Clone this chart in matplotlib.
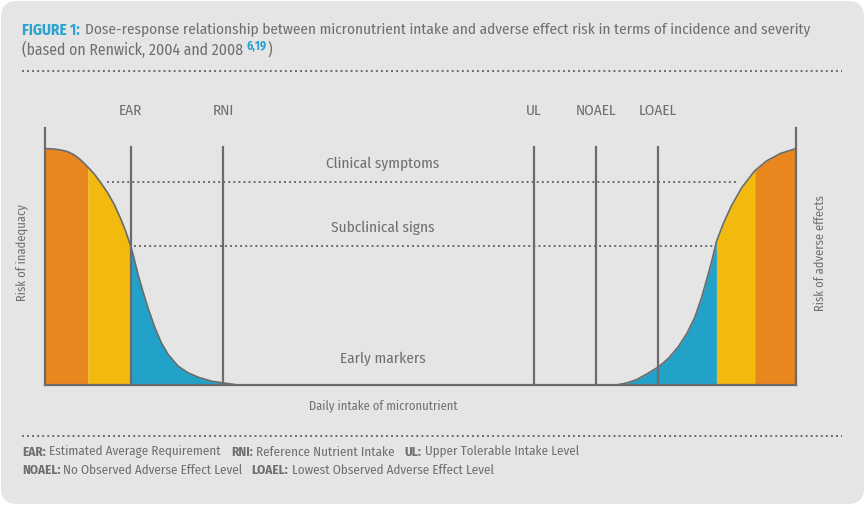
import numpy as np
import matplotlib
matplotlib.use('Agg')
import matplotlib.pyplot as plt
from matplotlib.patches import FancyBboxPatch
from matplotlib.transforms import IdentityTransform

# risk of inadequacy (low intake side)
low_x = np.array([0, 1.2, 2.1, 3.0, 3.9, 4.75, 5.7, 6.5, 7.4, 8.3, 9.2, 10.1, 10.75,
                  11.4, 11.8, 12.4, 13.1, 13.8, 14.65, 15.5, 16.4, 17.75, 19.1, 20.4,
                  22.2, 23.7, 25.7])
low_y = np.array([1.0, 0.998, 0.994, 0.987, 0.973, 0.952, 0.922, 0.895, 0.857, 0.815,
                  0.765, 0.702, 0.65, 0.589, 0.543, 0.466, 0.389, 0.318, 0.241, 0.178,
                  0.129, 0.079, 0.051, 0.033, 0.016, 0.009, 0.0])

# risk of adverse effects (high intake side)
high_x = np.array([76.1, 77.5, 78.8, 80.1, 81.7, 83.0, 84.3, 85.45, 86.55, 87.45, 88.2,
                   88.8, 89.4, 90.3, 91.4, 92.8, 94.5, 96.1, 97.9, 100.0])
high_y = np.array([0.0, 0.009, 0.023, 0.046, 0.077, 0.112, 0.161, 0.217, 0.288, 0.372,
                   0.456, 0.526, 0.606, 0.681, 0.758, 0.836, 0.906, 0.948, 0.979, 1.0])

ref_names = ['EAR', 'RNI', 'UL', 'NOAEL', 'LOAEL']
ref_x = [11.4, 23.7, 65.1, 73.4, 81.6]

# severity bands along intake, most severe first
low_bands = [(0, 5.7), (5.7, 11.4), (11.4, 25.7)]
high_bands = [(94.5, 100.0), (89.4, 94.5), (76.1, 89.4)]
band_colors = ['#e9861e', '#f2b90e', '#23a2c9']

levels = ['Clinical symptoms', 'Subclinical signs', 'Early markers']
level_y = [0.86, 0.59]
level_text_y = [0.935, 0.665, 0.112]
clinical_span = (8.3, 92.3)
subclinical_span = (11.9, 88.9)

GREY = '#6f6f6f'
LINE = '#6b6b6b'
BLUE = '#29a3d1'
BG = '#e5e5e5'

plt.rcParams['font.family'] = ['Fira Sans Condensed', 'Fira Sans', 'Lato', 'DejaVu Sans']

fig = plt.figure(figsize=(8.65, 5.05), dpi=100, facecolor='white')
panel = FancyBboxPatch((1, 1), 863, 503, boxstyle='round,pad=0,rounding_size=16',
                       transform=IdentityTransform(), facecolor=BG, edgecolor='none',
                       zorder=-10)
fig.patches.append(panel)

ax = fig.add_axes([45 / 865, 120 / 505, 751 / 865, 257 / 505])
ax.set_facecolor('none')
ax.set_xlim(0, 100)
ax.set_ylim(0, 1.087)
ax.set_xticks([])
ax.set_yticks([])
ax.spines['top'].set_visible(False)
for s in ['left', 'right', 'bottom']:
    ax.spines[s].set_color(LINE)
    ax.spines[s].set_linewidth(1.6)

for (a, b), c in zip(low_bands, band_colors):
    m = (low_x >= a) & (low_x <= b)
    ax.fill_between(low_x[m], 0, low_y[m], color=c, lw=0, zorder=1)
for (a, b), c in zip(high_bands, band_colors):
    m = (high_x >= a) & (high_x <= b)
    ax.fill_between(high_x[m], 0, high_y[m], color=c, lw=0, zorder=1)

ax.plot(low_x, low_y, color=LINE, lw=1.2, zorder=3, solid_joinstyle='round')
ax.plot(high_x, high_y, color=LINE, lw=1.2, zorder=3, solid_joinstyle='round')

for name, x in zip(ref_names, ref_x):
    ax.plot([x, x], [0, 1.006], color=LINE, lw=1.6, zorder=2)
    ax.text(x, 1.159, name, ha='center', va='center', color=GREY, fontsize=11, clip_on=False)

ax.plot(clinical_span, [level_y[0]] * 2, color=LINE, lw=1.4, ls=(0, (1, 1.6)), zorder=2)
ax.plot(subclinical_span, [level_y[1]] * 2, color=LINE, lw=1.4, ls=(0, (1, 1.6)), zorder=2)
for t, y in zip(levels, level_text_y):
    ax.text(45.0, y, t, ha='center', va='center', color=GREY, fontsize=11)

ax.text(45.0, -0.088, 'Daily intake of micronutrient', ha='center', va='center',
        color=GREY, fontsize=9, clip_on=False)
ax.text(-0.031, 0.514, 'Risk of inadequacy', rotation=90, ha='center', va='center',
        color=GREY, fontsize=9, transform=ax.transAxes)
ax.text(1.032, 0.514, 'Risk of adverse effects', rotation=90, ha='center', va='center',
        color=GREY, fontsize=9, transform=ax.transAxes)

renderer = fig.canvas.get_renderer()


def write_line(x, y, parts, size):
    # parts: (string, color, weight, gap in px after it); x, y in figure fraction
    for s, color, weight, gap in parts:
        t = fig.text(x, y, s, color=color, fontweight=weight, fontsize=size, va='center')
        x += (t.get_window_extent(renderer=renderer).width + gap) / fig.bbox.width
    return x


write_line(22 / 865, 1 - 30 / 505,
           [('FIGURE 1:', BLUE, 'bold', 5),
            ('Dose-response relationship between micronutrient intake and adverse effect risk '
             'in terms of incidence and severity', GREY, 'normal', 0)], 11)
xe = write_line(22 / 865, 1 - 50 / 505, [('(based on Renwick, 2004 and 2008', GREY, 'normal', 3)], 11.3)
xe = write_line(xe, 1 - 46 / 505, [('6,19', BLUE, 'bold', 1)], 8.5)
write_line(xe, 1 - 50 / 505, [(')', GREY, 'normal', 0)], 11.3)

fig.add_artist(plt.Line2D([22 / 865, 842 / 865], [1 - 71 / 505] * 2, color=LINE, lw=1.4,
                          ls=(0, (1, 1.6))))
fig.add_artist(plt.Line2D([22 / 865, 842 / 865], [1 - 436 / 505] * 2, color=LINE, lw=1.4,
                          ls=(0, (1, 1.6))))

write_line(22 / 865, 1 - 452 / 505,
           [('EAR:', GREY, 'bold', 3), ('Estimated Average Requirement', GREY, 'normal', 11),
            ('RNI:', GREY, 'bold', 3), ('Reference Nutrient Intake', GREY, 'normal', 10),
            ('UL:', GREY, 'bold', 3), ('Upper Tolerable Intake Level', GREY, 'normal', 0)], 9.4)
write_line(22 / 865, 1 - 470 / 505,
           [('NOAEL:', GREY, 'bold', 3), ('No Observed Adverse Effect Level', GREY, 'normal', 9),
            ('LOAEL:', GREY, 'bold', 3), ('Lowest Observed Adverse Effect Level', GREY, 'normal', 0)], 9.4)

fig.savefig('out.png', dpi=100, facecolor='white')
